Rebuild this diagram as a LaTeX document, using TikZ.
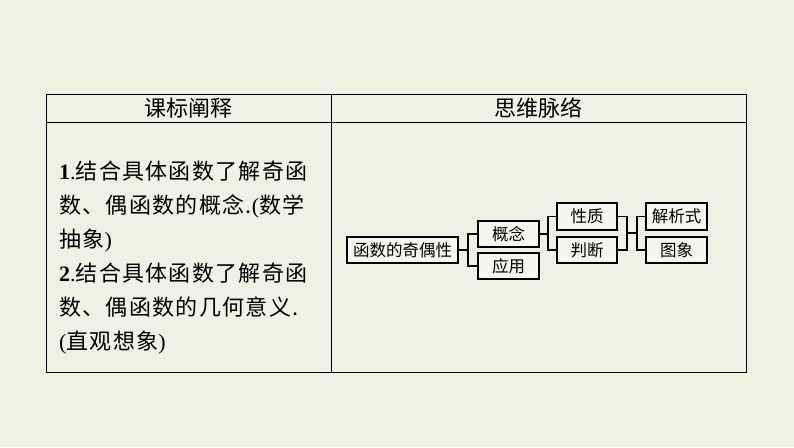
\documentclass[tikz,border=0pt]{standalone}
\usepackage{fontspec}
\setmainfont{Liberation Serif}
\newfontfamily\cjk{Noto Sans CJK SC}
\newfontfamily\cjkw[LetterSpace=6]{Noto Sans CJK SC}
\begin{document}
\begin{tikzpicture}[x=1pt,y=-1pt,
  box/.style={draw,line width=1.3pt,fill=white!40!bgc,minimum height=26pt,inner sep=0pt,font=\cjk\fontsize{16.5}{16.5}\selectfont},
  conn/.style={line width=1.3pt}]
\definecolor{bgc}{HTML}{EEF2E3}
\fill[bgc] (0,0) rectangle (794,447);
\useasboundingbox (0,0) rectangle (794,447);
\draw[line width=0.9pt] (46,94) rectangle (746,372);
\draw[line width=0.9pt] (46,122) -- (746,122);
\draw[line width=0.9pt] (331,94) -- (331,372);
\node (h1) at (188.5,108) {\cjk\fontsize{22}{22}\selectfont 课标阐释};
\node (h2) at (538.5,108) {\cjk\fontsize{22}{22}\selectfont 思维脉络};
\node[anchor=north west,align=left,inner sep=0pt,font=\fontsize{22}{34}\selectfont] (txt) at (59,161)
 {\textbf{1}.\cjkw 结合具体函数了解奇函\\
  \cjkw 数、偶函数的概念.\rmfamily(\cjkw 数学\\
  \cjkw 抽象\rmfamily)\\
  \textbf{2}.\cjkw 结合具体函数了解奇函\\
  \cjkw 数、偶函数的几何意义.\\
  (\cjkw 直观想象\rmfamily)};
\node[box,minimum width=111pt] (f) at (402.5,250) {函数的奇偶性};
\node[box,minimum width=61pt] (gn) at (508.5,234) {概念};
\node[box,minimum width=61pt] (yy) at (508.5,266) {应用};
\node[box,minimum width=60pt,minimum height=27pt] (xz) at (587,216.5) {性质};
\node[box,minimum width=60pt] (pd) at (587,250) {判断};
\node[box,minimum width=61pt,minimum height=27pt] (jx) at (676.5,216.5) {解析式};
\node[box,minimum width=61pt] (tx) at (676.5,250) {图象};
\draw[conn] (f.east) -- (468,250);
\draw[conn] (gn.west) -| (468,266) -- (yy.west);
\draw[conn] (gn.east) -- (548,234);
\draw[conn] (xz.west) -| (548,250) -- (pd.west);
\draw[conn] (xz.east) -| (627,250) -- (pd.east);
\draw[conn] (627,233) -- (637,233);
\draw[conn] (jx.west) -| (637,250) -- (tx.west);
\end{tikzpicture}
\end{document}
